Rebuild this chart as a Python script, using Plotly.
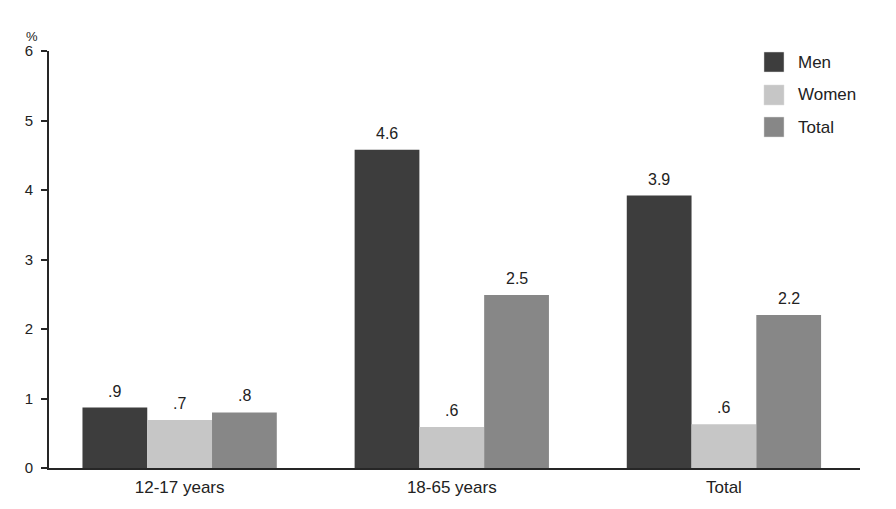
import plotly.graph_objects as go

categories = ["12-17 years", "18-65 years", "Total"]
series_names = ["Men", "Women", "Total"]
men = [0.87, 4.58, 3.92]
women = [0.69, 0.59, 0.63]
total = [0.80, 2.49, 2.20]
men_labels = [".9", "4.6", "3.9"]
women_labels = [".7", ".6", ".6"]
total_labels = [".8", "2.5", "2.2"]
colors = ["#3d3d3d", "#c6c6c6", "#878787"]
y_ticks = [0, 1, 2, 3, 4, 5, 6]

FONT = "Liberation Sans, Arial, sans-serif"
TXT = "#222222"
BARGAP = 0.286

fig = go.Figure()
series = [men, women, total]
labels = [men_labels, women_labels, total_labels]
nser = len(series)
bw = (1 - BARGAP) / nser
for j, (name, vals, labs, col) in enumerate(zip(series_names, series, labels, colors)):
    fig.add_trace(go.Bar(
        x=categories, y=vals, name=name,
        marker=dict(color=col, line=dict(width=0)),
        showlegend=False,
    ))
    for i, (v, lab) in enumerate(zip(vals, labs)):
        fig.add_annotation(x=i + (j - (nser - 1) / 2) * bw, y=v, xref="x", yref="y",
                           text=lab, showarrow=False,
                           xanchor="center", yanchor="bottom", yshift=6,
                           font=dict(family=FONT, size=16, color=TXT))

# legend drawn manually
leg_y = [0.9736, 0.8945, 0.8177]
for name, col, yy in zip(series_names, colors, leg_y):
    fig.add_shape(type="rect", xref="paper", yref="paper",
                  x0=0.8816, x1=0.9063, y0=yy - 0.024, y1=yy + 0.024,
                  fillcolor=col, line=dict(width=0.5, color="#dddddd"))
    fig.add_annotation(x=0.921, y=yy, xref="paper", yref="paper",
                       text=name, showarrow=False, xanchor="left", yanchor="middle",
                       font=dict(family=FONT, size=17, color=TXT))

fig.add_annotation(x=-0.021, y=1.0336, xref="paper", yref="paper", text="%",
                   showarrow=False, xanchor="center", yanchor="middle",
                   font=dict(family=FONT, size=13, color=TXT))

fig.update_layout(
    width=888, height=501,
    margin=dict(l=41, r=36, t=43, b=41),
    paper_bgcolor="white", plot_bgcolor="white",
    barmode="group", bargap=BARGAP, bargroupgap=0,
    font=dict(family=FONT, size=14, color=TXT),
    xaxis=dict(range=[-0.48, 2.5], showline=True, linecolor="#262626", linewidth=2,
               ticks="", showgrid=False, zeroline=False, ticklabelstandoff=3,
               tickfont=dict(size=17, color=TXT)),
    yaxis=dict(range=[0, 6], tickvals=y_ticks, showline=True, linecolor="#262626",
               linewidth=2, ticks="outside", ticklen=6, tickwidth=1.5, tickcolor="#262626",
               ticklabelstandoff=5,
               showgrid=False, zeroline=False, tickfont=dict(size=15, color=TXT)),
)

fig.write_html("out.html")
